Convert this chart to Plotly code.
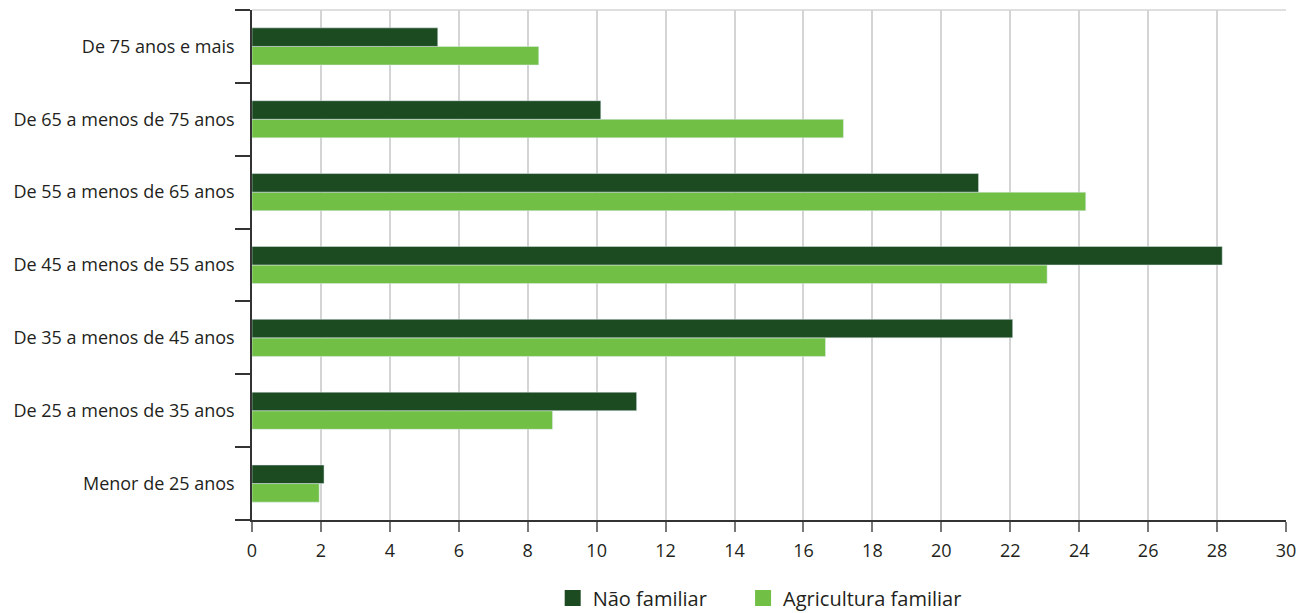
import plotly.graph_objects as go

# Age groups, listed bottom-to-top as they appear on the axis
faixas = [
    "Menor de 25 anos",
    "De 25 a menos de 35 anos",
    "De 35 a menos de 45 anos",
    "De 45 a menos de 55 anos",
    "De 55 a menos de 65 anos",
    "De 65 a menos de 75 anos",
    "De 75 anos e mais",
]
nao_familiar = [2.09, 11.16, 22.07, 28.15, 21.08, 10.12, 5.39]
agricultura_familiar = [1.95, 8.72, 16.64, 23.07, 24.19, 17.16, 8.32]
x_ticks = list(range(0, 31, 2))
series_nomes = ["Não familiar", "Agricultura familiar"]

COR_ESCURA = "#1d4b21"
COR_CLARA = "#71bf45"
TEXTO = "#231f20"
FONTE = "Open Sans"
ESPACO = "\u00a0" * 6  # extra room between legend entries

fig = go.Figure()

# Light bar first so it sits below the dark one inside each group
fig.add_trace(go.Bar(
    y=faixas, x=agricultura_familiar, orientation="h",
    marker=dict(color=COR_CLARA), name=series_nomes[1],
    showlegend=False,
))
fig.add_trace(go.Bar(
    y=faixas, x=nao_familiar, orientation="h",
    marker=dict(color=COR_ESCURA), name=series_nomes[0],
    showlegend=False,
))

# Legend entries with square swatches
for nome, cor, sufixo in [(series_nomes[0], COR_ESCURA, ESPACO),
                          (series_nomes[1], COR_CLARA, "")]:
    fig.add_trace(go.Scatter(
        x=[None], y=[None], mode="markers", name=nome + sufixo,
        marker=dict(symbol="square", size=20, color=cor),
    ))

fig.update_layout(
    width=1296, height=613,
    margin=dict(l=252, r=10, t=10, b=93, autoexpand=False),
    paper_bgcolor="white", plot_bgcolor="white",
    barmode="group", bargap=0.49, bargroupgap=0,
    font=dict(family=FONTE, size=18, color=TEXTO),
    showlegend=True,
    legend=dict(
        orientation="h", x=0.491, xanchor="center", y=-0.153, yanchor="middle",
        font=dict(family=FONTE, size=20, color=TEXTO),
        itemwidth=30, tracegroupgap=0,
    ),
)

fig.update_xaxes(
    range=[0, 30], tickvals=x_ticks, ticktext=[str(v) for v in x_ticks],
    showgrid=True, gridcolor="#d4d4d4", gridwidth=1.5,
    showline=True, linecolor="#333333", linewidth=1.5,
    ticks="outside", ticklen=10, tickcolor="#777777", tickwidth=2,
    tickfont=dict(family=FONTE, size=18, color=TEXTO),
    ticklabeloverflow="allow", ticklabelstandoff=4,
    zeroline=False, fixedrange=True, automargin=False,
)
fig.update_yaxes(
    type="category", categoryorder="array", categoryarray=faixas,
    range=[-0.5, 6.5],
    showline=True, linecolor="#333333", linewidth=1.5,
    ticks="outside", tickson="boundaries", ticklen=15,
    tickcolor="#333333", tickwidth=1.5,
    tickfont=dict(family=FONTE, size=18, color=TEXTO),
    ticklabelstandoff=12,
    showgrid=False, zeroline=False, fixedrange=True, automargin=False,
)

# Thin light rule along the top of the plotting area
fig.add_shape(type="line", xref="paper", yref="paper", x0=0, x1=1, y0=1, y1=1,
              line=dict(color="#d4d4d4", width=1.5))

fig.write_html("out.html")
